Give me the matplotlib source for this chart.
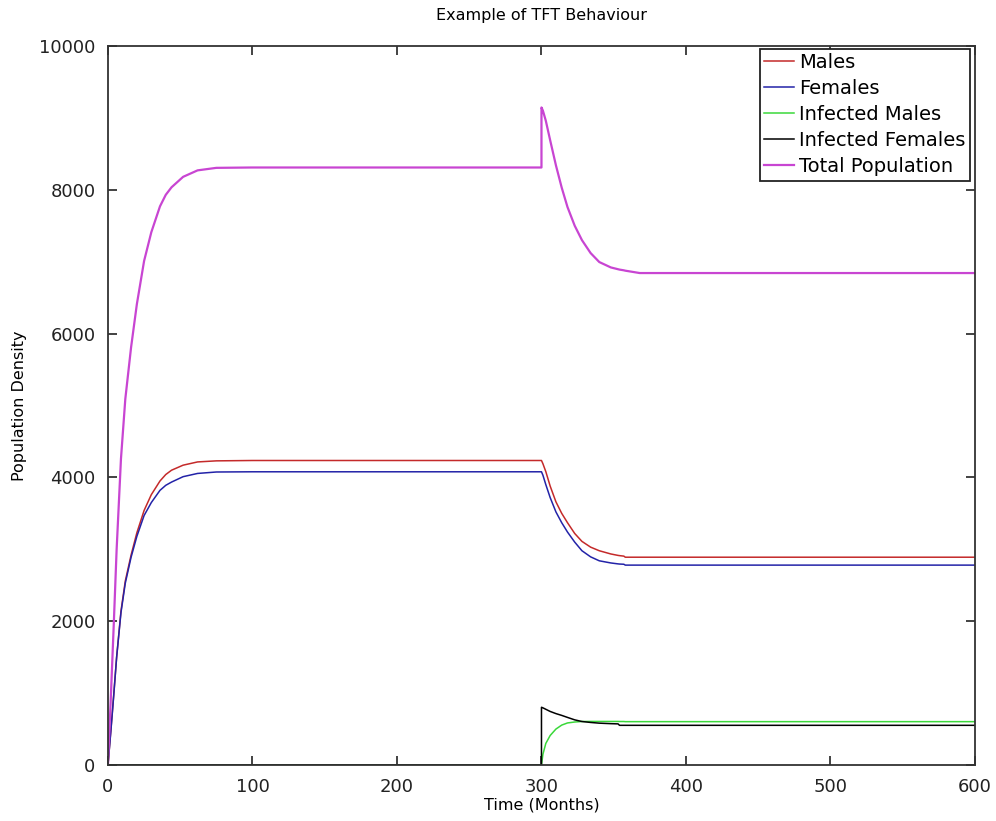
import matplotlib
matplotlib.use("Agg")
import matplotlib.pyplot as plt
import numpy as np

# Time grid (months) for the growth phase and the phase after month 300
t_growth = [0, 2, 4, 6, 9, 12, 16, 20, 25, 30, 36, 40, 44, 52, 62, 75, 100, 300]
t_decline = [300, 301, 303, 306, 310, 314, 318, 323, 328, 334, 340, 348,
             353, 354, 357, 358, 368, 600]

males_growth = [0, 480, 980, 1500, 2140, 2560, 2920, 3230, 3540, 3760, 3950,
                4040, 4100, 4170, 4215, 4230, 4235, 4235]
females_growth = [0, 470, 970, 1500, 2120, 2530, 2890, 3180, 3470, 3650, 3820,
                  3890, 3935, 4010, 4055, 4075, 4078, 4078]
inf_males_growth = [0] * len(t_growth)
inf_females_growth = [0] * len(t_growth)
total_growth = [0, 950, 1950, 3000, 4260, 5090, 5810, 6410, 7010, 7410, 7770,
                7930, 8035, 8180, 8270, 8305, 8310, 8310]

males_decline = [4235, 4190, 4080, 3880, 3660, 3500, 3370, 3220, 3110, 3030,
                 2980, 2935, 2915, 2912, 2905, 2890, 2890, 2890]
females_decline = [4078, 4030, 3900, 3720, 3520, 3370, 3240, 3100, 2980, 2895,
                   2840, 2810, 2797, 2795, 2792, 2780, 2780, 2780]
inf_males_decline = [0, 150, 300, 410, 500, 555, 585, 598, 605, 606, 606, 606,
                     606, 605, 605, 603, 603, 603]
inf_females_decline = [803, 795, 775, 745, 715, 690, 662, 628, 605, 592, 582,
                       575, 572, 552, 552, 552, 552, 552]
total_decline = [9145, 9100, 8960, 8690, 8340, 8030, 7760, 7500, 7300, 7120,
                 6995, 6920, 6895, 6890, 6880, 6875, 6842, 6842]

labels = ["Males", "Females", "Infected Males", "Infected Females",
          "Total Population"]
colors = ["#c42a2a", "#2323a8", "#3ad83a", "#000000", "#c845d2"]
xticks = [0, 100, 200, 300, 400, 500, 600]
yticks = [0, 2000, 4000, 6000, 8000, 10000]

t = np.array(t_growth + t_decline)
series = [
    males_growth + males_decline,
    females_growth + females_decline,
    inf_males_growth + inf_males_decline,
    inf_females_growth + inf_females_decline,
    total_growth + total_decline,
]

fig = plt.figure(figsize=(9.96, 8.21), dpi=100)
ax = fig.add_axes([0.1084, 0.0682, 0.8705, 0.8758])

for vals, lab, col in zip(series, labels, colors):
    lw = 1.6 if lab == "Total Population" else 1.1
    ax.plot(t, vals, color=col, lw=lw, label=lab)

ax.set_xlim(0, 600)
ax.set_ylim(0, 10000)
ax.set_xticks(xticks)
ax.set_yticks(yticks)
ax.tick_params(direction="in", length=6.5, width=1.2, top=True, right=True,
               labelsize=13, colors="#222222", pad=9)
ax.tick_params(axis="x", pad=9)
for sp in ax.spines.values():
    sp.set_linewidth(1.3)
    sp.set_color("#333333")

ax.set_title("Example of TFT Behaviour", fontsize=11.5, pad=18.5)
ax.set_xlabel("Time (Months)", fontsize=11.5, labelpad=1.5)
ax.set_ylabel("Population Density", fontsize=11.5, labelpad=8.5)

leg = ax.legend(loc="upper right", bbox_to_anchor=(0.9942, 0.9958),
                borderaxespad=0, fontsize=14, frameon=True, fancybox=False,
                framealpha=1, edgecolor="#222222", handlelength=1.55,
                handletextpad=0.26, labelspacing=0.36, borderpad=0.22)
leg.get_frame().set_linewidth(1.3)

fig.savefig("out.png", dpi=100)
